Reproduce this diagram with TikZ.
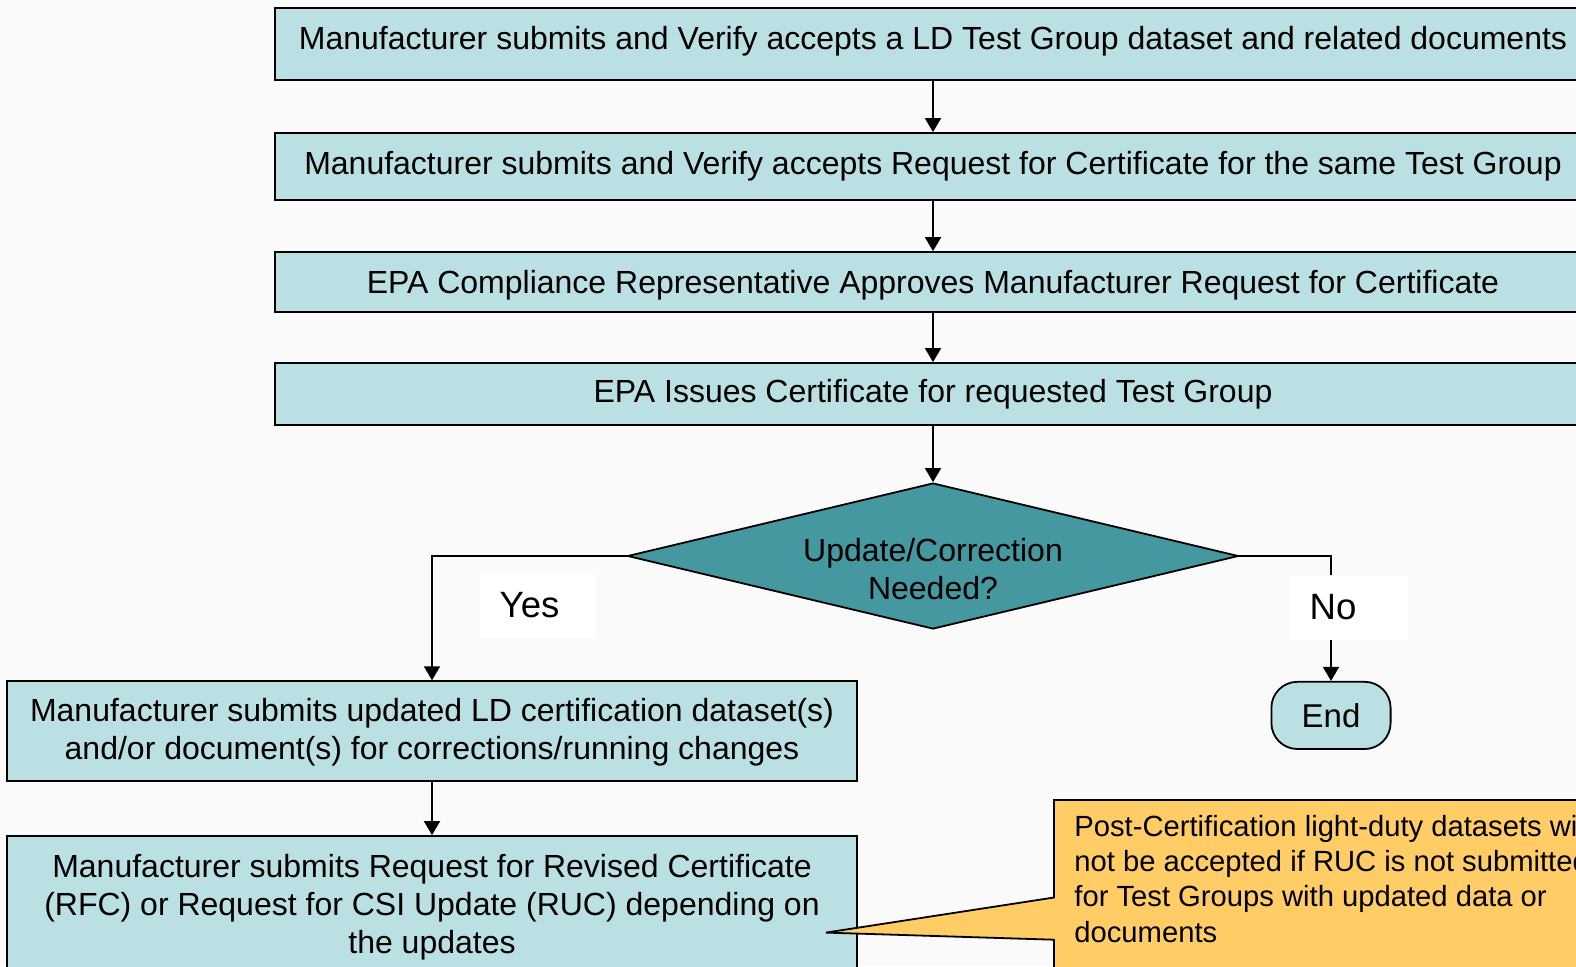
\documentclass[tikz,border=0pt]{standalone}
\usepackage{fontspec}
\setmainfont{Liberation Sans}
\usetikzlibrary{arrows.meta,shapes.geometric}
\definecolor{boxfill}{RGB}{187,224,227}
\definecolor{decfill}{RGB}{69,152,160}
\definecolor{notefill}{RGB}{255,204,102}
\definecolor{pagebg}{RGB}{250,250,250}

\begin{document}
\begin{tikzpicture}[x=0.5pt, y=-0.5pt,
    stepbox/.style={draw, line width=0.9pt, fill=boxfill, inner sep=0pt, align=center,
        font=\fontsize{16}{19}\selectfont},
    decbox/.style={draw, line width=0.9pt, fill=decfill, shape=diamond, inner sep=0pt,
        minimum width=305.5pt, minimum height=73pt},
    endbox/.style={draw, line width=0.9pt, fill=boxfill, rounded corners=13pt, inner sep=0pt,
        minimum width=59.6pt, minimum height=33.6pt, font=\fontsize{16.5}{19}\selectfont},
    answer/.style={fill=white, inner xsep=10pt, inner ysep=0pt, text width=38pt, align=left,
        minimum height=32.5pt, font=\fontsize{18.3}{21}\selectfont},
    flow/.style={line width=0.9pt, -{Triangle[length=7pt,width=8pt]}}]

    % the page
    \useasboundingbox (0,0) rectangle (1576,966);
    \clip (0,0) rectangle (1576,966);
    \fill[pagebg] (0,0) rectangle (1576,966);

    % the steps
    \node[stepbox, minimum width=658pt, minimum height=36pt, text depth=6.4pt] (submit) at (933,44)
        {Manufacturer submits and Verify accepts a LD Test Group dataset and related documents};
    \node[stepbox, minimum width=658pt, minimum height=33.5pt] (request) at (933,166.5)
        {Manufacturer submits and Verify accepts Request for Certificate for the same Test Group};
    \node[stepbox, minimum width=658pt, minimum height=30pt, text height=14.5pt] (approve) at (933,282)
        {EPA Compliance Representative Approves Manufacturer Request for Certificate};
    \node[stepbox, minimum width=658pt, minimum height=31pt] (issue) at (933,394)
        {EPA Issues Certificate for requested Test Group};
    \node[decbox] (update) at (933,556) {};
    \node[align=center, inner sep=0pt, font=\fontsize{16}{19}\selectfont] (question) at (933,569)
        {Update/Correction\\Needed?};
    \node[stepbox, minimum width=425pt, minimum height=49.8pt, text depth=2pt] (resubmit) at (432,731)
        {Manufacturer submits updated LD certification dataset(s)\\and/or document(s) for corrections/running changes};
    \node[stepbox, minimum width=425pt, minimum height=68.5pt, text depth=1pt] (revise) at (432,904.5)
        {Manufacturer submits Request for Revised Certificate\\(RFC) or Request for CSI Update (RUC) depending on\\the updates};
    \node[endbox] (end) at (1331,715.4) {End};

    % the arrows
    \draw[flow] (submit.south) -- (request.north);
    \draw[flow] (request.south) -- (approve.north);
    \draw[flow] (approve.south) -- (issue.north);
    \draw[flow] (issue.south) -- (update.north);
    \draw[flow] (update.west) -| (resubmit.north);
    \draw[flow] (update.east) -| (end.north);
    \draw[flow] (resubmit.south) -- (revise.north);

    % the answers
    \node[answer] (yes) at (537.7,605.5) {Yes};
    \node[answer, text width=39pt] (no) at (1348.7,607) {No};

    % the note
    \coordinate (tip) at (826,932.6);
    \draw[line width=0.9pt, fill=notefill] (1054,800) -- (1640,800) -- (1640,1010) -- (1054,1010)
        -- (1054,939.7) -- (tip) -- (1054,897.5) -- cycle;
    \node[anchor=north west, inner sep=0pt, align=left, font=\fontsize{14.6}{17.6}\selectfont] (note) at (1074,815)
        {Post-Certification light-duty datasets will\\not be accepted if RUC is not submitted\\for Test Groups with updated data or\\documents};
\end{tikzpicture}
\end{document}
